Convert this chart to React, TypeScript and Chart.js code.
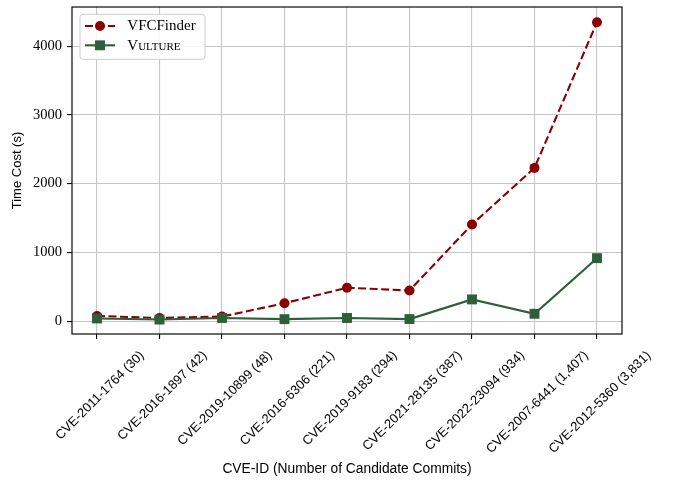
import React, { useEffect, useRef } from "react";
import { Chart, registerables } from "chart.js";

Chart.register(...registerables);

// ---------- data ----------
const categories = [
  "CVE-2011-1764 (30)",
  "CVE-2016-1897 (42)",
  "CVE-2019-10899 (48)",
  "CVE-2016-6306 (221)",
  "CVE-2019-9183 (294)",
  "CVE-2021-28135 (387)",
  "CVE-2022-23094 (934)",
  "CVE-2007-6441 (1,407)",
  "CVE-2012-5360 (3,831)",
];
const vfcfinderTimes = [75, 45, 65, 260, 485, 445, 1405, 2228, 4347];
const vultureTimes = [38, 22, 45, 28, 45, 29, 315, 106, 915];
const yTickValues = [0, 1000, 2000, 3000, 4000];
const seriesNames = ["VFCFinder", "Vulture"];
const seriesSmallCaps = [false, true];
const xTitle = "CVE-ID (Number of Candidate Commits)";
const yTitle = "Time Cost (s)";

// ---------- styles ----------
const RED = "#8b0000";
const GREEN = "#2f5e3b";
const GRID = "#c6c6c6";
const SANS = "'Liberation Sans', Arial, sans-serif";
const SERIF = "'Liberation Serif', 'Times New Roman', serif";

const framePlugin = {
  id: "frame",
  afterDatasetsDraw(chart: any) {
    const { ctx, chartArea } = chart;
    ctx.save();
    ctx.strokeStyle = "#000";
    ctx.lineWidth = 1.15;
    ctx.strokeRect(
      chartArea.left,
      chartArea.top,
      chartArea.right - chartArea.left,
      chartArea.bottom - chartArea.top
    );
    ctx.restore();
  },
};

// shift rotated x labels so each is centred on its tick (matplotlib ha='center')
const centerLabelsPlugin = {
  id: "centerRotatedLabels",
  beforeDraw(chart: any) {
    const scale = chart.scales.x;
    if (!scale) return;
    const items = scale.getLabelItems();
    const ctx = chart.ctx;
    ctx.save();
    items.forEach((it: any) => {
      if (it.__shifted) return;
      ctx.font = it.font.string;
      const w = ctx.measureText(String(it.label)).width;
      it.options.translation[0] += w * 0.3536 + 3;
      it.__shifted = true;
    });
    ctx.restore();
  },
};

const legendPlugin = {
  id: "mplLegend",
  afterDraw(chart: any) {
    const { ctx, chartArea } = chart;
    const x0 = chartArea.left + 8;
    const y0 = chartArea.top + 7.3;
    const w = 125;
    const h = 45;
    const r = 3;
    ctx.save();
    ctx.beginPath();
    ctx.moveTo(x0 + r, y0);
    ctx.lineTo(x0 + w - r, y0);
    ctx.quadraticCurveTo(x0 + w, y0, x0 + w, y0 + r);
    ctx.lineTo(x0 + w, y0 + h - r);
    ctx.quadraticCurveTo(x0 + w, y0 + h, x0 + w - r, y0 + h);
    ctx.lineTo(x0 + r, y0 + h);
    ctx.quadraticCurveTo(x0, y0 + h, x0, y0 + h - r);
    ctx.lineTo(x0, y0 + r);
    ctx.quadraticCurveTo(x0, y0, x0 + r, y0);
    ctx.closePath();
    ctx.fillStyle = "rgba(255,255,255,0.85)";
    ctx.fill();
    ctx.strokeStyle = "#cccccc";
    ctx.lineWidth = 1;
    ctx.stroke();

    chart.data.datasets.forEach((ds: any, i: number) => {
      const cy = y0 + 11.7 + i * 19.3;
      const lx0 = x0 + 5;
      const lx1 = x0 + 35;
      const mx = x0 + 20;
      ctx.strokeStyle = ds.borderColor;
      ctx.lineWidth = ds.borderWidth;
      ctx.setLineDash(ds.borderDash || []);
      ctx.beginPath();
      ctx.moveTo(lx0, cy);
      ctx.lineTo(lx1, cy);
      ctx.stroke();
      ctx.setLineDash([]);
      ctx.fillStyle = ds.pointBackgroundColor;
      if (ds.pointStyle === "rect") {
        const s = ds.pointRadius * Math.SQRT1_2;
        ctx.fillRect(mx - s, cy - s, 2 * s, 2 * s);
      } else {
        ctx.beginPath();
        ctx.arc(mx, cy, ds.pointRadius, 0, Math.PI * 2);
        ctx.fill();
      }
      ctx.fillStyle = "#000";
      ctx.textBaseline = "middle";
      ctx.textAlign = "left";
      ctx.font = (seriesSmallCaps[i] ? "small-caps " : "") + "15px " + SERIF;
      ctx.fillText(ds.label, x0 + 47.3, cy + 0.5);
    });
    ctx.restore();
  },
};

export default function App() {
  const canvasRef = useRef<HTMLCanvasElement | null>(null);

  useEffect(() => {
    const canvas = canvasRef.current;
    if (!canvas) return;
    const chart = new Chart(canvas, {
      type: "line",
      data: {
        datasets: [
          {
            label: seriesNames[0],
            data: vfcfinderTimes.map((v, i) => ({ x: i, y: v })),
            borderColor: RED,
            backgroundColor: RED,
            borderWidth: 2.1,
            borderDash: [8, 3.5],
            pointStyle: "circle",
            pointRadius: 5,
            pointBackgroundColor: RED,
            pointBorderColor: RED,
            pointBorderWidth: 0,
            tension: 0,
            order: 1,
          },
          {
            label: seriesNames[1],
            data: vultureTimes.map((v, i) => ({ x: i, y: v })),
            borderColor: GREEN,
            backgroundColor: GREEN,
            borderWidth: 2.1,
            pointStyle: "rect",
            pointRadius: 7,
            pointBackgroundColor: GREEN,
            pointBorderColor: GREEN,
            pointBorderWidth: 0,
            tension: 0,
            order: 0,
          },
        ] as any,
      },
      options: {
        responsive: false,
        animation: false,
        devicePixelRatio: 1,
        layout: { padding: { left: 0, top: 5, right: 53, bottom: 0 } },
        plugins: {
          legend: { display: false },
          tooltip: { enabled: false },
        },
        scales: {
          x: {
            type: "linear",
            min: -0.4,
            max: 8.4,
            afterBuildTicks: (s: any) => {
              s.ticks = categories.map((_, i) => ({ value: i }));
            },
            afterFit: (s: any) => {
              s.height = 149;
              s.paddingLeft = 0;
              s.paddingRight = 0;
            },
            ticks: {
              autoSkip: false,
              minRotation: 45,
              maxRotation: 45,
              labelOffset: 0,
              padding: 9,
              color: "#000",
              font: { family: SANS, size: 13 },
              callback: (v: any) => categories[Math.round(Number(v))] ?? "",
            },
            grid: {
              color: GRID,
              lineWidth: 1.1,
              tickLength: 5,
              tickColor: "#000",
              tickWidth: 1.1,
            },
            border: { display: false },
            title: {
              display: true,
              text: xTitle,
              color: "#000",
              font: { family: SANS, size: 13.8 },
              padding: { top: 0, bottom: 6 },
            },
          },
          y: {
            type: "linear",
            min: -188,
            max: 4568,
            afterBuildTicks: (s: any) => {
              s.ticks = yTickValues.map((v) => ({ value: v }));
            },
            afterFit: (s: any) => {
              s.width = 72;
              s.paddingTop = 0;
              s.paddingBottom = 0;
            },
            ticks: {
              padding: 5,
              color: "#000",
              font: { family: SERIF, size: 14.5 },
              callback: (v: any) => String(v),
            },
            grid: {
              color: GRID,
              lineWidth: 1.1,
              tickLength: 5,
              tickColor: "#000",
              tickWidth: 1.1,
            },
            border: { display: false },
            title: {
              display: true,
              text: yTitle,
              color: "#000",
              font: { family: SANS, size: 13 },
              padding: { top: 10, bottom: 0 },
            },
          },
        },
      } as any,
      plugins: [centerLabelsPlugin, framePlugin, legendPlugin],
    });
    return () => chart.destroy();
  }, []);

  return (
    <div style={{ position: "absolute", left: 0, top: 0, width: 675, height: 483, background: "#fff" }}>
      <canvas ref={canvasRef} width={675} height={483} style={{ display: "block" }} />
    </div>
  );
}
